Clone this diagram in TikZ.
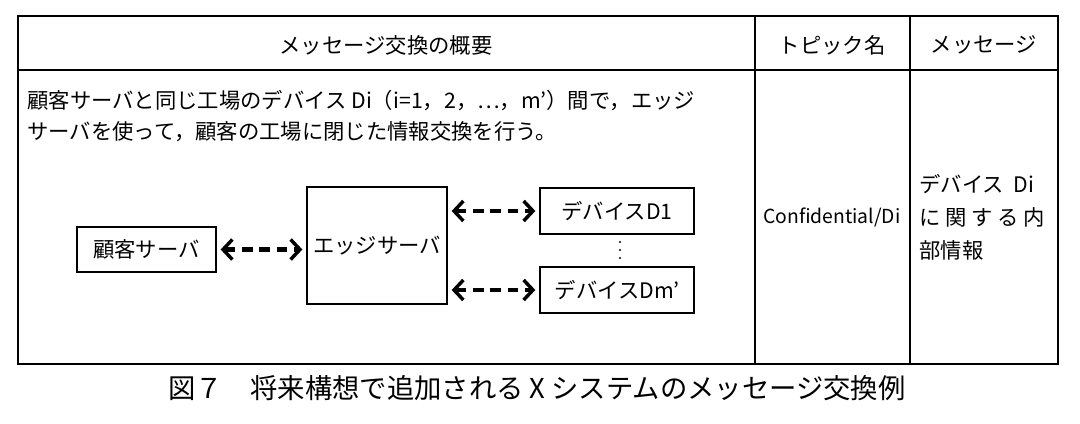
\documentclass[tikz,border=0pt]{standalone}
\usepackage{fontspec}
\setmainfont{Noto Sans CJK JP}
\usetikzlibrary{arrows.meta}
\tikzset{every picture/.style={line width=0.75pt}}
\tikzset{
  box/.style={draw, line width=1pt, inner sep=0pt},
  txt/.style={inner sep=0.75pt, font=\fontsize{16}{19}\selectfont},
  link/.style={line width=3.4pt, dash pattern=on 8pt off 5pt,
    {Straight Barb[length=7pt,width=15pt,line width=2.6pt]}-{Straight Barb[length=7pt,width=15pt,line width=2.6pt]}}
}
\begin{document}
\begin{tikzpicture}[x=0.75pt,y=0.75pt,yscale=-1,xscale=1]
\useasboundingbox (0,0) rectangle (1080,424);

%Table
\draw [line width=1.2pt] (18,16) rectangle (1058,364);
\draw [line width=1pt] (18,70) -- (1058,70);
\draw [line width=1pt] (755,16) -- (755,364);
\draw [line width=1pt] (910,16) -- (910,364);

% Header
\node [txt] (h1) at (386,45) {メッセージ交換の概要};
\node [txt] (h2) at (832,45) {トピック名};
\node [txt] (h3) at (984,45) {メッセージ};

% Text Node
\node [txt, anchor=west] (t1) at (26,101) {顧客サーバと同じ工場のデバイス Di（i=1，2，…，m'）間で，エッジ};
\node [txt, anchor=west] (t2) at (26,132) {サーバを使って，顧客の工場に閉じた情報交換を行う。};

% Boxes
\node [box, txt, minimum width=104.25pt, minimum height=33.75pt] (kyaku) at (146.5,249.5) {顧客サーバ};
\node [box, txt, minimum width=105pt, minimum height=87.75pt] (edge) at (377,245.5) {エッジサーバ};
\node [box, txt, minimum width=115.5pt, minimum height=34.5pt] (d1) at (617,211) {デバイスD1};
\node [box, txt, minimum width=115.5pt, minimum height=34.5pt] (dm) at (617,290) {デバイスDm'};
\foreach \y in {242,250,258} \fill (620,\y) circle (1.2);

% Arrows
\draw [link] ([xshift=3pt]kyaku.east) -- ([xshift=-3pt]edge.west |- kyaku.east);
\draw [link] ([xshift=3pt]edge.east |- d1.west) -- ([xshift=-3pt]d1.west);
\draw [link] ([xshift=3pt]edge.east |- dm.west) -- ([xshift=-3pt]dm.west);

% Columns
\node [txt, font=\fontsize{14.5}{17}\selectfont] (topic) at (832,217) {Confidential/Di};
\node [txt, anchor=west] (m1) at (918,184) {デバイス\ \ Di};
\node [txt, anchor=west] (m2) at (918,217) {に 関 す る 内};
\node [txt, anchor=west] (m3) at (918,250) {部情報};

% Caption
\node [inner sep=0.75pt, font=\fontsize{20.5}{24}\selectfont] (cap) at (537,388) {図７\quad 将来構想で追加される X システムのメッセージ交換例};

\end{tikzpicture}
\end{document}
